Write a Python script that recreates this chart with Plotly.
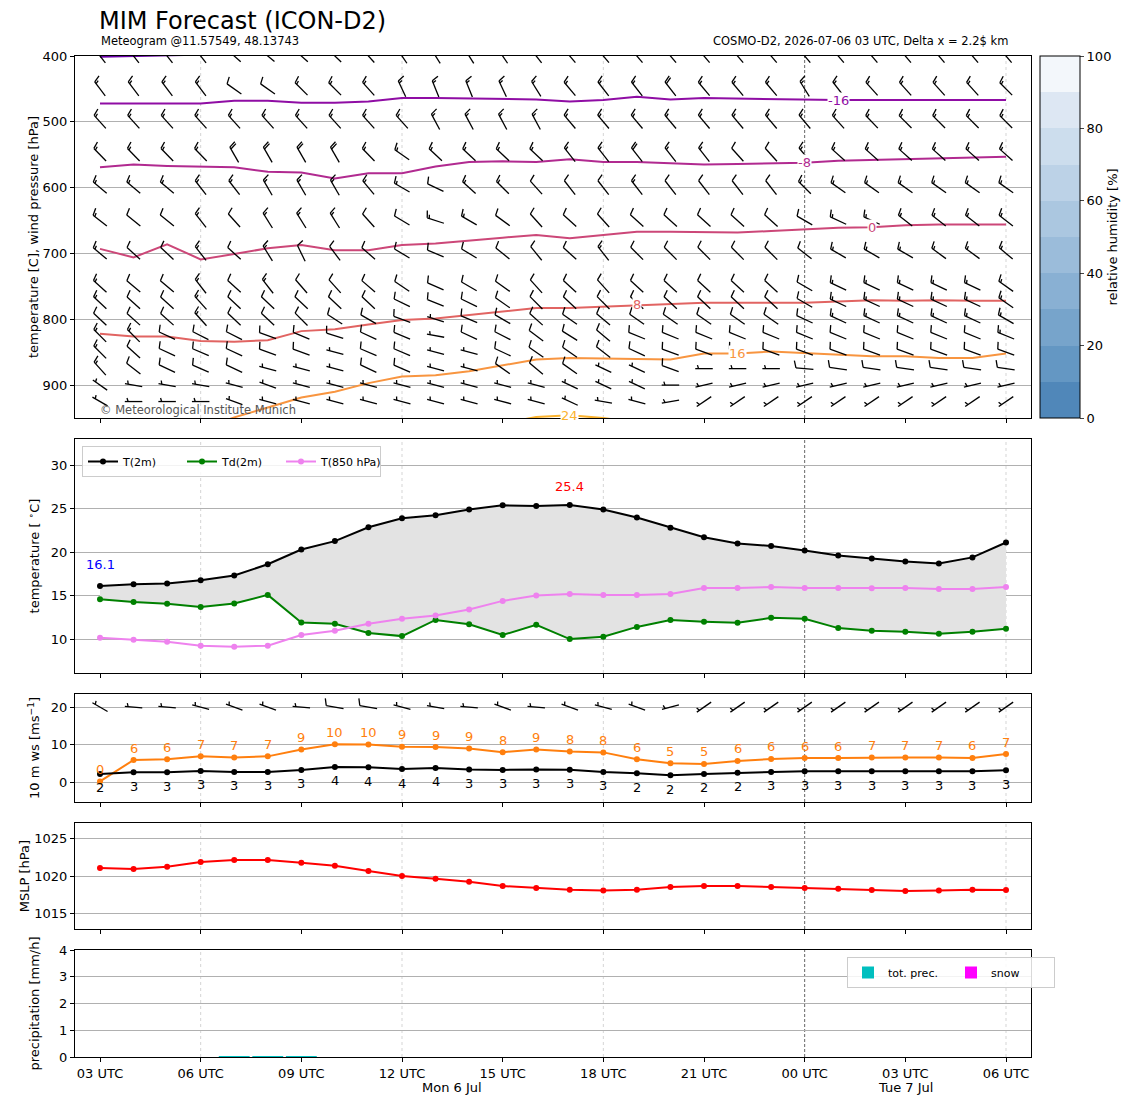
import numpy as np
import pandas as pd
import plotly.graph_objects as go
from plotly.subplots import make_subplots

# ---------------- data ----------------
times = pd.date_range("2026-07-06 03:00", periods=28, freq="h")

t2m = [16.1, 16.3, 16.4, 16.76, 17.3, 18.6, 20.3, 21.26, 22.86, 23.9, 24.24, 24.9, 25.38, 25.3,
       25.4, 24.9, 23.97, 22.8, 21.7, 20.99, 20.69, 20.19, 19.6, 19.27, 18.93, 18.7, 19.39, 21.1]
td2m = [14.58, 14.27, 14.05, 13.7, 14.08, 15.08, 11.9, 11.76, 10.69, 10.34, 12.2, 11.7, 10.46, 11.64,
        10.0, 10.27, 11.4, 12.2, 12.0, 11.87, 12.44, 12.33, 11.26, 10.95, 10.84, 10.6, 10.84, 11.18]
t850 = [10.15, 9.92, 9.7, 9.24, 9.12, 9.24, 10.46, 10.95, 11.76, 12.33, 12.7, 13.4, 14.39, 15.0,
        15.19, 15.08, 15.08, 15.19, 15.88, 15.88, 15.99, 15.88, 15.88, 15.84, 15.88, 15.76, 15.76, 15.99]

ws10 = [2.2, 2.64, 2.64, 3.0, 2.73, 2.73, 3.26, 4.05, 3.96, 3.5, 3.8, 3.35, 3.26, 3.4,
        3.3, 2.73, 2.38, 1.85, 2.2, 2.47, 2.73, 2.9, 2.9, 2.9, 2.9, 2.9, 2.9, 3.2]
gust10 = [0.18, 5.9, 6.08, 6.87, 6.6, 6.87, 8.72, 10.13, 10.04, 9.45, 9.34, 8.99, 8.0, 8.72,
          8.2, 7.93, 6.08, 5.02, 4.85, 5.64, 6.17, 6.43, 6.43, 6.6, 6.6, 6.6, 6.45, 7.49]
wdir10 = [300, 275, 275, 285, 290, 290, 275, 280, 280, 285, 280, 275, 290, 275,
          290, 285, 290, 255, 235, 235, 235, 235, 235, 235, 235, 235, 235, 235]

mslp = [1021.05, 1020.92, 1021.23, 1021.84, 1022.1, 1022.1, 1021.75, 1021.36, 1020.66, 1020.0,
        1019.65, 1019.25, 1018.68, 1018.42, 1018.2, 1018.07, 1018.2, 1018.55, 1018.68, 1018.68,
        1018.55, 1018.42, 1018.33, 1018.16, 1018.03, 1018.07, 1018.2, 1018.16]

prec_tot = [0, 0, 0, 0, 0.03, 0.03, 0.03, 0, 0, 0, 0, 0, 0, 0,
            0, 0, 0, 0, 0, 0, 0, 0, 0, 0, 0, 0, 0, 0]
prec_snow = [0, 0, 0, 0, 0, 0, 0, 0, 0, 0, 0, 0, 0, 0,
             0, 0, 0, 0, 0, 0, 0, 0, 0, 0, 0, 0, 0, 0]

# isotherms: pressure [hPa] of each temperature line at every hour
iso_m24 = [401.0, 400.2, 399.5, 398.0, None, None, None, None, None, None, None, None, None, None,
           None, None, None, None, None, None, None, None, None, None, None, None, None, None]
iso_m16 = [472, 472, 473, 472, 468, 468, 471, 471, 469, 464, 464, 465, 466, 466,
           469, 467, 462, 466, 464, 465, 466, 467, 467, 467, 467, 467, 466, 467]
iso_m8 = [569, 565, 567, 568, 569, 576, 577, 586, 578, 578, 568, 561, 560, 561,
          557, 561, 561, 563, 565, 564, 563, 562, 559, 558, 556, 556, 554, 553]
iso_0 = [693, 706, 686, 709, 701, 692, 687, 695, 695, 687, 685, 680, 676, 672,
         677, 672, 667, 667, 668, 668, 666, 663, 661, 660, 657, 656, 656, 656]
iso_8 = [822, 826, 826, 833, 834, 832, 818, 815, 808, 801, 799, 794, 788, 783,
         783, 781, 778, 777, 775, 775, 775, 775, 773, 771, 772, 771, 772, 772]
iso_16 = [None, None, None, 968, 949, 934, 919, 910, 897, 887, 885, 879, 870, 861,
          859, 860, 861, 861, 852, 852, 849, 851, 854, 856, 856, 859, 859, 852]
iso_24 = [None, None, None, None, None, None, None, None, None, None, None, None, 958, 948.5,
          946, 950, 957, None, None, None, None, None, None, None, None, None, None, None]

# upper-air wind: direction [deg] and speed [kt] per pressure level
levels = [400, 450, 500, 550, 600, 650, 700, 750, 775, 800, 825, 850, 875, 900, 925]
wdir_400 = [322, 322, 322, 322, 312, 310, 312, 314, 318, 326, 328, 328, 326, 322,
            320, 320, 320, 320, 320, 320, 320, 320, 320, 320, 320, 320, 320, 320]
wspd_400 = [20, 20, 20, 20, 20, 20, 20, 20, 20, 20, 20, 20, 20, 20,
            20, 20, 20, 20, 20, 20, 20, 20, 20, 20, 20, 20, 20, 20]
wdir_450 = [323, 323, 323, 323, 305, 305, 315, 315, 318, 335, 338, 338, 335, 328,
            320, 322, 322, 322, 320, 320, 320, 328, 322, 318, 318, 318, 318, 315]
wspd_450 = [15, 15, 15, 15, 10, 10, 15, 15, 15, 15, 15, 15, 15, 15,
            15, 15, 15, 20, 15, 15, 15, 15, 15, 15, 15, 15, 15, 15]
wdir_500 = [318, 318, 318, 318, 318, 318, 318, 318, 318, 318, 332, 332, 332, 332,
            320, 320, 320, 320, 320, 320, 320, 320, 318, 316, 315, 315, 315, 315]
wspd_500 = [15, 15, 15, 15, 15, 15, 15, 15, 15, 15, 15, 15, 15, 15,
            15, 15, 15, 15, 15, 15, 15, 15, 15, 15, 15, 15, 15, 15]
wdir_550 = [316, 316, 316, 316, 330, 330, 330, 330, 316, 305, 313, 313, 313, 313,
            322, 322, 322, 322, 322, 318, 318, 320, 312, 312, 312, 312, 312, 312]
wspd_550 = [15, 15, 15, 15, 20, 20, 20, 20, 15, 15, 15, 15, 15, 15,
            15, 15, 20, 15, 15, 10, 10, 15, 15, 15, 15, 15, 15, 15]
wdir_600 = [310, 310, 310, 322, 322, 330, 330, 330, 320, 300, 295, 312, 315, 318,
            322, 322, 322, 322, 322, 322, 322, 315, 305, 305, 305, 305, 305, 305]
wspd_600 = [15, 15, 15, 15, 15, 15, 15, 15, 15, 15, 10, 15, 15, 10,
            10, 10, 15, 10, 10, 10, 10, 15, 15, 15, 15, 15, 15, 15]
wdir_650 = [308, 309, 309, 322, 318, 328, 328, 328, 318, 301, 288, 300, 306, 318,
            312, 318, 312, 312, 312, 312, 312, 300, 295, 295, 308, 308, 308, 308]
wspd_650 = [15, 10, 10, 15, 10, 15, 15, 15, 10, 10, 15, 15, 10, 10,
            10, 10, 10, 10, 10, 10, 10, 10, 15, 15, 15, 15, 15, 15]
wdir_700 = [310, 312, 313, 322, 312, 328, 334, 323, 311, 301, 293, 301, 309, 321,
            312, 322, 315, 315, 315, 315, 315, 308, 300, 300, 300, 306, 306, 310]
wspd_700 = [15, 10, 10, 15, 10, 15, 10, 10, 10, 10, 10, 10, 10, 10,
            10, 15, 10, 10, 10, 10, 10, 10, 15, 15, 15, 15, 15, 15]
wdir_750 = [312, 310, 310, 322, 312, 322, 319, 318, 311, 304, 294, 300, 305, 318,
            313, 318, 313, 313, 313, 313, 313, 300, 295, 295, 295, 295, 295, 305]
wspd_750 = [15, 10, 10, 15, 10, 15, 10, 10, 10, 10, 10, 10, 10, 10,
            10, 10, 10, 10, 10, 10, 10, 10, 15, 15, 15, 15, 15, 15]
wdir_775 = [313, 312, 312, 318, 313, 313, 313, 313, 313, 296, 292, 296, 305, 315,
            313, 315, 313, 313, 313, 313, 313, 300, 295, 295, 295, 295, 295, 305]
wspd_775 = [15, 10, 10, 15, 10, 10, 10, 10, 10, 10, 10, 10, 10, 10,
            10, 10, 10, 10, 10, 10, 10, 10, 15, 15, 15, 15, 15, 15]
wdir_800 = [313, 312, 312, 318, 313, 313, 315, 303, 300, 290, 288, 293, 300, 312,
            305, 310, 305, 305, 305, 305, 305, 295, 295, 295, 295, 295, 295, 300]
wspd_800 = [10, 10, 10, 15, 10, 10, 10, 10, 10, 10, 5, 10, 10, 10,
            10, 10, 10, 10, 10, 10, 10, 10, 15, 15, 15, 15, 15, 15]
wdir_825 = [315, 315, 295, 297, 297, 290, 293, 288, 295, 293, 280, 295, 297, 307,
            302, 310, 292, 292, 292, 292, 292, 292, 292, 292, 292, 292, 292, 292]
wspd_825 = [15, 15, 10, 10, 10, 10, 10, 10, 10, 10, 5, 10, 10, 10,
            10, 10, 10, 10, 10, 10, 10, 10, 10, 10, 10, 10, 10, 15]
wdir_850 = [315, 312, 295, 293, 295, 290, 290, 285, 293, 293, 285, 285, 295, 305,
            305, 308, 295, 290, 290, 290, 290, 290, 290, 290, 290, 290, 290, 290]
wspd_850 = [15, 10, 10, 10, 10, 10, 10, 5, 10, 10, 5, 5, 10, 10,
            10, 10, 10, 10, 10, 10, 10, 10, 10, 10, 10, 10, 10, 10]
wdir_875 = [318, 308, 295, 293, 295, 285, 285, 285, 295, 293, 285, 285, 305, 310,
            305, 295, 295, 290, 270, 270, 270, 275, 278, 278, 278, 278, 278, 278]
wspd_875 = [15, 10, 10, 10, 10, 5, 5, 5, 10, 10, 5, 5, 10, 10,
            10, 5, 5, 10, 5, 5, 5, 10, 10, 10, 10, 10, 10, 10]
wdir_900 = [305, 280, 280, 280, 285, 290, 285, 285, 285, 285, 285, 285, 285, 285,
            295, 295, 295, 270, 257, 257, 257, 257, 257, 257, 257, 257, 257, 257]
wspd_900 = [5, 5, 5, 5, 5, 5, 5, 5, 5, 5, 5, 5, 5, 5,
            5, 5, 5, 3, 5, 5, 5, 5, 5, 5, 5, 5, 5, 5]
wdir_925 = [300, 270, 270, 270, 290, 285, 285, 285, 285, 285, 285, 285, 285, 285,
            295, 280, 285, 260, 236, 236, 236, 236, 236, 236, 236, 236, 236, 236]
wspd_925 = [5, 5, 5, 5, 5, 5, 5, 5, 5, 5, 5, 5, 5, 5,
            5, 5, 5, 5, 5, 5, 5, 5, 5, 5, 5, 5, 5, 5]

# ---------------- layout geometry (page pixels, page body has an 8px margin) ----------------
OFF = 8
W, H = 1148 - OFF, 1105 - OFF
PX_L, PX_R = 75, 1031
rows_px = [(56, 418), (439, 673), (694, 802), (823, 929), (950, 1057)]
yranges = [[950, 400], [6.1, 33.0], [-5.3, 23.5], [1013.0, 1027.0], [0, 4]]
PAD_H = 0.745


def fx(px):
    return (px - OFF) / W


def fy(py):
    return 1 - (py - OFF) / H


x_h = ((times - times[0]).total_seconds() / 3600.0).to_numpy()
xrange_ = [x_h[0] - PAD_H, x_h[-1] + PAD_H]
H_PER_PX = (xrange_[1] - xrange_[0]) / (PX_R - PX_L)


def per_px(r):
    top, bot = rows_px[r]
    return abs(yranges[r][1] - yranges[r][0]) / (bot - top)


STAFF = 17.5  # barb staff length in px


def barb_shape(spd, wdir):
    # matplotlib style barb, pivot in the middle, screen pixels (y up)
    r = 5 * int(np.round(spd / 5.0))
    nflag, rem = divmod(r, 50)
    nfull, rem = divmod(rem, 10)
    half = rem >= 5
    u = -np.sin(np.radians(wdir))
    v = -np.cos(np.radians(wdir))
    ang = np.arctan2(v, u) + np.pi / 2
    c, s = np.cos(ang), np.sin(ang)
    h, w, sp = 0.4 * STAFF, 0.25 * STAFF, 0.125 * STAFF
    e = -STAFF / 2
    parts = [[(0, e), (0, e + STAFF)]]
    off = STAFF
    for i in range(nflag):
        if off != STAFF:
            off += sp / 2
        parts.append([(0, e + off), (h, e - w / 2 + off), (0, e - w + off)])
        off -= w + sp
    for i in range(nfull):
        parts.append([(0, e + off), (h, e + off + w / 2)])
        off -= sp
    if half:
        if off == STAFF:
            off -= 1.5 * sp
        parts.append([(0, e + off), (h / 2, e + off + w / 4)])
    return [[(px * c - py * s, px * s + py * c) for px, py in p] for p in parts]


def barbs_xy(xs, ys, spds, dirs, y_per_px, up_sign):
    bx, by = [], []
    for x0, y0, sp_, d in zip(xs, ys, spds, dirs):
        for seg in barb_shape(sp_, d):
            for px, py in seg:
                bx.append(x0 + px * H_PER_PX)
                by.append(y0 + up_sign * py * y_per_px)
            bx.append(None)
            by.append(None)
    return bx, by


fig = make_subplots(rows=5, cols=1, shared_xaxes=True)

# ---------------- panel 1: isotherms + wind barbs ----------------
isotherms = [(-24, iso_m24, "#6a00a8"), (-16, iso_m16, "#8f0da4"), (-8, iso_m8, "#b12a90"),
             (0, iso_0, "#cc4778"), (8, iso_8, "#e16462"), (16, iso_16, "#f89540"),
             (24, iso_24, "#fbb32f")]
label_at = {-16: 22, -8: 21, 0: 23, 8: 16, 16: 19, 24: 14}
for temp, vals, col in isotherms:
    fig.add_trace(go.Scatter(x=x_h, y=vals, mode="lines", line=dict(color=col, width=2),
                             showlegend=False, hoverinfo="skip"), row=1, col=1)

wdirs = [wdir_400, wdir_450, wdir_500, wdir_550, wdir_600, wdir_650, wdir_700, wdir_750,
         wdir_775, wdir_800, wdir_825, wdir_850, wdir_875, wdir_900, wdir_925]
wspds = [wspd_400, wspd_450, wspd_500, wspd_550, wspd_600, wspd_650, wspd_700, wspd_750,
         wspd_775, wspd_800, wspd_825, wspd_850, wspd_875, wspd_900, wspd_925]
BX, BY = [], []
for lev, dd, ss in zip(levels, wdirs, wspds):
    bx, by = barbs_xy(x_h, [lev] * len(x_h), ss, dd, per_px(0), -1)
    BX += bx
    BY += by
fig.add_trace(go.Scatter(x=BX, y=BY, mode="lines", line=dict(color="black", width=1.3),
                         showlegend=False, hoverinfo="skip"), row=1, col=1)

for temp, vals, col in isotherms:
    if temp in label_at:
        i = label_at[temp]
        fig.add_annotation(x=x_h[i], y=vals[i], text=str(temp), showarrow=False,
                           font=dict(color=col, size=13), bgcolor="white", borderpad=0,
                           row=1, col=1)

rh_colors = ["#5087b9", "#6497c3", "#77a4cb", "#89b0d3", "#9bbcda", "#abc7e0",
             "#bcd2e7", "#ccdded", "#dde7f3", "#f3f7fb"]
rh_scale = []
for k, c in enumerate(rh_colors):
    rh_scale += [[k / len(rh_colors), c], [(k + 1) / len(rh_colors), c]]
fig.add_trace(go.Scatter(
    x=[x_h[0]], y=[levels[0]], mode="markers", showlegend=False, hoverinfo="skip",
    marker=dict(color=[0], cmin=0, cmax=100, colorscale=rh_scale, opacity=0, showscale=True,
                colorbar=dict(x=fx(1040), xanchor="left", y=fy(56), yanchor="top",
                              len=362, lenmode="pixels", thickness=40, thicknessmode="pixels",
                              outlinecolor="black", outlinewidth=1, ticks="outside", ticklen=4,
                              tickvals=[0, 20, 40, 60, 80, 100], tickfont=dict(size=13),
                              xpad=0, ypad=0,
                              title=dict(text="relative humidity [%]", side="right",
                                         font=dict(size=13))))), row=1, col=1)

# ---------------- panel 2: temperatures ----------------
fig.add_trace(go.Scatter(x=x_h, y=td2m, mode="lines", line=dict(width=0), showlegend=False,
                         hoverinfo="skip"), row=2, col=1)
fig.add_trace(go.Scatter(x=x_h, y=t2m, mode="lines", line=dict(width=0), fill="tonexty",
                         fillcolor="#e3e3e3", showlegend=False, hoverinfo="skip"), row=2, col=1)
for name, vals, col in [("T(2m)", t2m, "black"), ("Td(2m)", td2m, "#008000"),
                        ("T(850 hPa)", t850, "#ee82ee")]:
    fig.add_trace(go.Scatter(x=x_h, y=vals, mode="lines+markers", name=name,
                             line=dict(color=col, width=2), marker=dict(color=col, size=6),
                             legend="legend"), row=2, col=1)
i_min, i_max = int(np.argmin(t2m)), int(np.argmax(t2m))
fig.add_annotation(x=x_h[i_min], y=t2m[i_min], text=f"{t2m[i_min]:.1f}", showarrow=False,
                   yshift=22, font=dict(color="blue", size=13), row=2, col=1)
fig.add_annotation(x=x_h[i_max], y=t2m[i_max], text=f"{t2m[i_max]:.1f}", showarrow=False,
                   yshift=19, font=dict(color="red", size=13), row=2, col=1)

# ---------------- panel 3: 10 m wind ----------------
spd10_kt = [v * 1.94384 for v in ws10]
bx, by = barbs_xy(x_h, [20] * len(x_h), spd10_kt, wdir10, per_px(2), 1)
fig.add_trace(go.Scatter(x=bx, y=by, mode="lines", line=dict(color="black", width=1.3),
                         showlegend=False, hoverinfo="skip"), row=3, col=1)
fig.add_trace(go.Scatter(x=x_h, y=gust10, mode="lines+markers", line=dict(color="#ff7f0e", width=2),
                         marker=dict(color="#ff7f0e", size=6), showlegend=False), row=3, col=1)
fig.add_trace(go.Scatter(x=x_h, y=ws10, mode="lines+markers", line=dict(color="black", width=2),
                         marker=dict(color="black", size=6), showlegend=False), row=3, col=1)
for i in range(len(x_h)):
    fig.add_annotation(x=x_h[i], y=gust10[i], text=str(int(round(gust10[i]))), showarrow=False,
                       yshift=12, font=dict(color="#ff7f0e", size=13), row=3, col=1)
    fig.add_annotation(x=x_h[i], y=ws10[i], text=str(int(round(ws10[i]))), showarrow=False,
                       yshift=-14, font=dict(color="black", size=13), row=3, col=1)

# ---------------- panel 4: MSLP ----------------
fig.add_trace(go.Scatter(x=x_h, y=mslp, mode="lines+markers", line=dict(color="red", width=2),
                         marker=dict(color="red", size=6), showlegend=False), row=4, col=1)

# ---------------- panel 5: precipitation ----------------
fig.add_trace(go.Bar(x=x_h, y=prec_tot, width=0.92, marker=dict(color="#00bfbf", line=dict(width=0)),
                     name="tot. prec.", legend="legend2"), row=5, col=1)
fig.add_trace(go.Bar(x=x_h, y=prec_snow, width=0.92, marker=dict(color="#ff00ff", line=dict(width=0)),
                     name="snow", legend="legend2"), row=5, col=1)

# ---------------- axes ----------------
tick_idx = list(range(0, len(times), 3))
tickvals = [x_h[i] for i in tick_idx]
ticktext = [times[i].strftime("%H UTC") for i in tick_idx]
ytitles = ["temperature [C], wind pressure [hPa]", "temperature [ <sup>∘</sup>C]",
           "10 m ws [ms<sup>−1</sup>]", "MSLP [hPa]", "precipitation [mm/h]"]
ytickvals = [[400, 500, 600, 700, 800, 900], [10, 15, 20, 25, 30], [0, 10, 20],
             [1015, 1020, 1025], [0, 1, 2, 3, 4]]
for r in range(5):
    top, bot = rows_px[r]
    fig.update_xaxes(row=r + 1, col=1, domain=[fx(PX_L), fx(PX_R)], range=xrange_,
                     tickvals=tickvals, ticktext=ticktext, ticks="outside", ticklen=4,
                     tickcolor="black", showline=True, mirror=True, linecolor="black",
                     linewidth=1, showgrid=False, zeroline=False,
                     showticklabels=(r == 4), tickfont=dict(size=13))
    fig.update_yaxes(row=r + 1, col=1, domain=[fy(bot), fy(top)], range=yranges[r],
                     tickvals=ytickvals[r], ticks="outside", ticklen=4, tickcolor="black",
                     showline=True, mirror=True, linecolor="black", linewidth=1,
                     showgrid=True, gridcolor="#b0b0b0", gridwidth=1, zeroline=False,
                     tickfont=dict(size=13), title=dict(text=ytitles[r], font=dict(size=13)))
    for i, t in enumerate(times):
        if t.hour % 6 == 0:
            midnight = t.hour == 0
            fig.add_vline(x=x_h[i], row=r + 1, col=1, layer="below",
                          line=dict(color="#555555" if midnight else "#d0d0d0",
                                    width=0.9, dash="3px,2px" if midnight else "dot"))

# ---------------- texts ----------------
fig.add_annotation(xref="paper", yref="paper", x=fx(97), y=fy(21), xanchor="left",
                   yanchor="middle", text="MIM Forecast (ICON-D2)", showarrow=False,
                   font=dict(size=24))
fig.add_annotation(xref="paper", yref="paper", x=fx(99), y=fy(41), xanchor="left",
                   yanchor="middle", text="Meteogram @11.57549, 48.13743", showarrow=False,
                   font=dict(size=11.5))
fig.add_annotation(xref="paper", yref="paper", x=fx(1010), y=fy(41), xanchor="right",
                   yanchor="middle", text="COSMO-D2, 2026-07-06 03 UTC, Delta x = 2.2$ km",
                   showarrow=False, font=dict(size=11.5))
fig.add_annotation(xref="paper", yref="paper", x=fx(98), y=fy(410), xanchor="left",
                   yanchor="middle", text="© Meteorological Institute Munich", showarrow=False,
                   font=dict(size=11.5, color="#555555"))
for xv, txt in [(10.5, "Mon 6 Jul"), (24.0, "Tue 7 Jul")]:
    fig.add_annotation(xref="x5", yref="paper", x=xv, y=fy(1087), text=txt,
                       showarrow=False, yanchor="middle", font=dict(size=13))

fig.update_layout(
    width=W, height=H, margin=dict(l=0, r=0, t=0, b=0), template="none",
    paper_bgcolor="white", plot_bgcolor="white", barmode="overlay",
    font=dict(family="DejaVu Sans", color="black", size=13),
    legend=dict(x=fx(82), y=fy(446), xanchor="left", yanchor="top", orientation="h",
                traceorder="normal", bgcolor="rgba(255,255,255,0.85)", bordercolor="#cccccc",
                borderwidth=1, font=dict(size=11), entrywidth=54, itemwidth=30),
    legend2=dict(x=fx(847), y=fy(957), xanchor="left", yanchor="top", orientation="h",
                 traceorder="normal", bgcolor="rgba(255,255,255,0.85)", bordercolor="#cccccc",
                 borderwidth=1, font=dict(size=11), entrywidth=58, itemwidth=30),
)

fig.write_html("out.html")
